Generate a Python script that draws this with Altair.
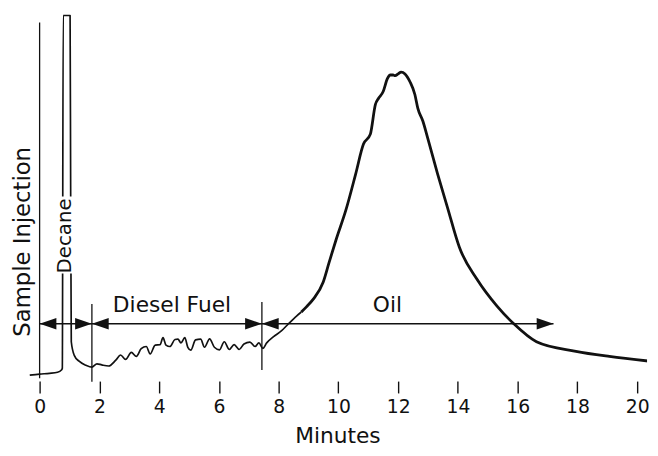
import altair as alt
import pandas as pd

# ---- chromatogram trace (minutes, detector response) ----
trace_t = [-0.33, 0.00, 0.33, 0.60, 0.73, 0.76, 0.79, 1.02, 1.04, 1.06, 1.16, 1.32, 1.55, 1.75,
           1.92, 2.08, 2.31, 2.55, 2.71, 2.88, 3.07, 3.24, 3.40, 3.57, 3.70, 3.87, 4.03, 4.13,
           4.23, 4.36, 4.53, 4.63, 4.73, 4.86, 4.96, 5.06, 5.22, 5.39, 5.52, 5.69, 5.85, 6.02,
           6.18, 6.35, 6.51, 6.68, 6.84, 7.04, 7.21, 7.34, 7.47, 7.60, 7.83, 8.10, 8.33, 8.60,
           8.76, 8.93, 9.16, 9.49,
           9.69, 9.92, 10.25, 10.58, 10.84, 11.07, 11.24, 11.34, 11.50, 11.64, 11.74, 11.83,
           11.90, 12.00, 12.10, 12.23, 12.40, 12.56, 12.66, 12.83, 12.99, 13.32, 13.65,
           14.05, 14.64, 15.31, 15.87, 16.63, 17.95, 19.07, 20.43]
trace_v = [0.8, 1.1, 1.3, 1.6, 2.2, 2.7, 98.7, 98.7, 48.4, 9.9, 6.2, 4.6, 3.5, 3.0,
           3.9, 3.6, 3.3, 4.9, 6.3, 5.1, 7.0, 5.9, 8.0, 8.6, 6.6, 9.0, 9.1, 11.0,
           9.0, 8.6, 10.5, 10.6, 9.6, 11.0, 8.4, 7.6, 10.4, 10.6, 8.4, 10.7, 8.4, 7.7,
           9.9, 7.8, 9.1, 7.8, 9.3, 9.8, 8.6, 9.6, 8.1, 9.6, 11.3, 12.9, 14.8, 16.9,
           18.0, 19.4, 21.5, 26.1,
           31.5, 37.6, 45.7, 55.6, 63.7, 66.4, 74.5, 76.1, 78.0, 81.5, 82.5, 82.5,
           82.3, 82.8, 83.3, 82.8, 80.6, 77.2, 73.4, 69.9, 65.3, 55.6, 46.5,
           35.6, 26.9, 19.6, 14.8, 9.9, 7.3, 5.9, 4.6]
n_fine = 57  # points drawn with the thin pen (up to 8.76 min)

# ---- vertical markers ----
marker_t = [0.0, 1.75, 7.44]
marker_v_low = [0.0, -1.0, 2.2]
marker_v_high = [96.8, 20.2, 20.7]

# ---- range arrows ----
arrow_start_t = 0.0
arrow_end_t = 17.2
arrow_v = 14.8
tips_right_t = [1.75, 7.44, 17.2]
tips_left_t = [0.0, 1.75, 7.44]

# ---- labels ----
label_text = ["Diesel Fuel", "Oil"]
label_t = [4.43, 11.64]
label_v = [18.0, 18.0]

x_ticks = [0, 2, 4, 6, 8, 10, 12, 14, 16, 18, 20]

FONT = "DejaVu Sans"
INK = "#111111"

n = len(trace_t)
rows = []
for i in range(n):
    if i < n_fine:
        rows.append({"t": trace_t[i], "v": trace_v[i], "seg": "fine", "order": i})
    if i >= n_fine - 1:
        rows.append({"t": trace_t[i], "v": trace_v[i], "seg": "bold", "order": i})
df = pd.DataFrame(rows)

xscale = alt.Scale(domain=[-0.397, 20.331], nice=False, zero=False)
yscale = alt.Scale(domain=[0, 100], nice=False, zero=False)

xaxis = alt.Axis(values=x_ticks, format="d", domain=False, grid=False, ticks=True,
                 tickSize=12, tickWidth=1.4, tickColor=INK, offset=3,
                 labelFont=FONT, labelFontSize=19, labelColor=INK, labelPadding=5,
                 title="Minutes", titleFont=FONT, titleFontSize=22, titleFontWeight="normal",
                 titleColor=INK, titlePadding=9)


def X(field):
    return alt.X(field, type="quantitative", scale=xscale, axis=xaxis)


def Y(field):
    return alt.Y(field, type="quantitative", scale=yscale, axis=None)


fine = alt.Chart(df[df.seg == "fine"]).mark_line(
    color=INK, strokeWidth=1.7, clip=True, strokeJoin="round", interpolate="monotone").encode(
    x=X("t"), y=Y("v"), order=alt.Order("order", type="quantitative"))
bold = alt.Chart(df[df.seg == "bold"]).mark_line(
    color=INK, strokeWidth=2.8, clip=True, strokeJoin="round", interpolate="monotone").encode(
    x=X("t"), y=Y("v"), order=alt.Order("order", type="quantitative"))

markers = alt.Chart(pd.DataFrame({"t": marker_t, "lo": marker_v_low, "hi": marker_v_high})).mark_rule(
    color=INK, strokeWidth=1.3).encode(x=X("t"), y=Y("lo"), y2="hi")

arrow_line = alt.Chart(pd.DataFrame({"a": [arrow_start_t], "b": [arrow_end_t], "v": [arrow_v]})).mark_rule(
    color=INK, strokeWidth=1.6).encode(x=X("a"), x2="b", y=Y("v"))

heads_r = alt.Chart(pd.DataFrame({"t": tips_right_t, "v": [arrow_v] * len(tips_right_t)})).mark_point(
    shape="M0,0L-2,-0.68L-2,0.68Z", filled=True, size=289, color=INK, opacity=1).encode(
    x=X("t"), y=Y("v"))
heads_l = alt.Chart(pd.DataFrame({"t": tips_left_t, "v": [arrow_v] * len(tips_left_t)})).mark_point(
    shape="M0,0L2,-0.68L2,0.68Z", filled=True, size=289, color=INK, opacity=1).encode(
    x=X("t"), y=Y("v"))

labels = alt.Chart(pd.DataFrame({"s": label_text, "t": label_t, "v": label_v})).mark_text(
    font=FONT, fontSize=22, color=INK, baseline="alphabetic", align="center").encode(
    x=X("t"), y=Y("v"), text="s:N")

# white gap in the decane peak where its name is written
gap = alt.Chart(pd.DataFrame({"a": [0.70], "b": [1.10], "lo": [28.5], "hi": [49.4]})).mark_rect(
    color="white").encode(x=X("a"), x2="b", y=Y("lo"), y2="hi")

decane = alt.Chart(pd.DataFrame({"s": ["Decane"], "t": [0.86], "v": [38.7]})).mark_text(
    font=FONT, fontSize=20, color=INK, angle=270, baseline="middle", align="center").encode(
    x=X("t"), y=Y("v"), text="s:N")

injection = alt.Chart(pd.DataFrame({"s": ["Sample Injection"], "t": [-0.56], "v": [37.1]})).mark_text(
    font=FONT, fontSize=23, color=INK, angle=270, baseline="middle", align="center").encode(
    x=X("t"), y=Y("v"), text="s:N")

chart = alt.layer(
    markers, arrow_line, heads_r, heads_l, fine, bold, gap, decane, injection, labels
).properties(
    width=627, height=372,
    autosize=alt.AutoSizeParams(type="none"),
    padding={"left": 20, "top": 0, "right": 3, "bottom": 68},
).configure_view(strokeWidth=0)

chart.save("out.html", embed_options={"renderer": "svg", "actions": False})
